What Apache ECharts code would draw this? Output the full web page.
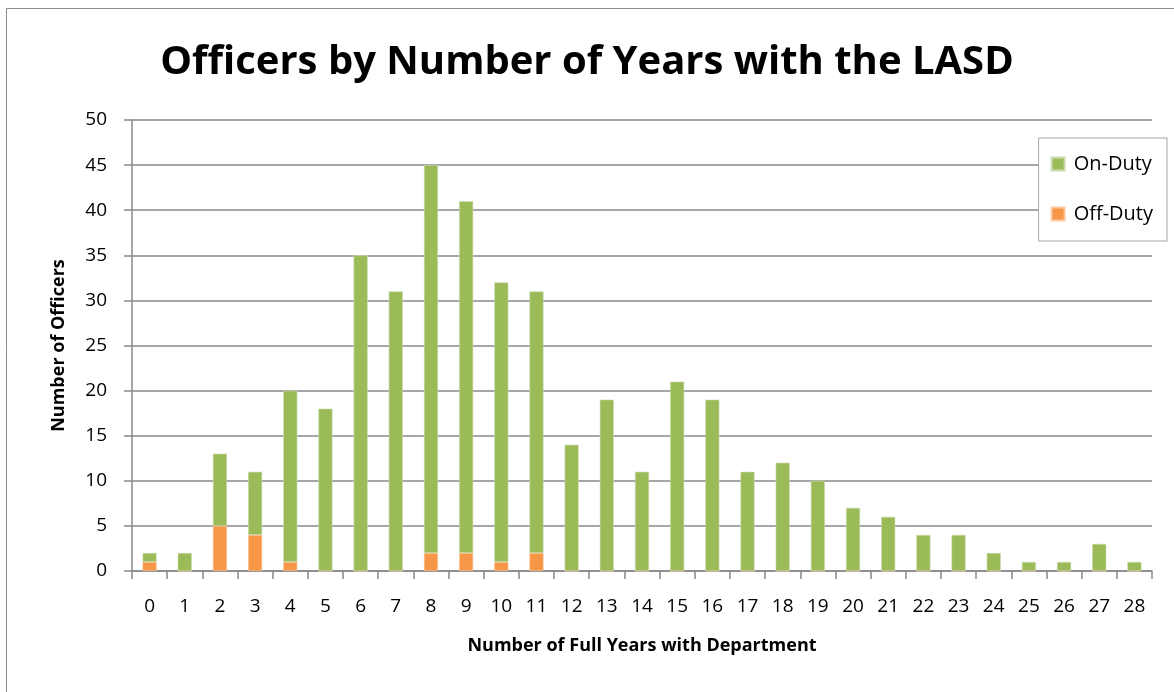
<!DOCTYPE html>
<html>
<head>
<meta charset="utf-8">
<script src="https://cdn.jsdelivr.net/npm/echarts@6/dist/echarts.min.js"></script>
<style>
  html, body { margin: 0; padding: 0; background: #fff; }
  #chart { width: 1174px; height: 692px; }
</style>
</head>
<body>
<div id="chart"></div>
<script>
// years with the department
const years = ['0', '1', '2', '3', '4', '5', '6', '7', '8', '9', '10', '11', '12', '13', '14',
  '15', '16', '17', '18', '19', '20', '21', '22', '23', '24', '25', '26', '27', '28']
// officers off duty (bottom of stack)
const offDuty = [1, 0, 5, 4, 1, 0, 0, 0, 2, 2, 1, 2, 0, 0, 0, 0, 0, 0, 0, 0, 0, 0, 0, 0, 0, 0, 0, 0, 0]
// officers on duty (top of stack)
const onDuty = [1, 2, 8, 7, 19, 18, 35, 31, 43, 39, 31, 29, 14, 19, 11, 21, 19, 11, 12, 10, 7, 6, 4, 4, 2, 1, 1, 3, 1]

const font = "'Open Sans', 'Noto Sans', sans-serif"
const gridColor = '#898989'

const chart = echarts.init(document.getElementById('chart'))

chart.setOption({
  animation: false,
  graphic: [
    {
      type: 'rect',
      shape: { x: 6.5, y: 8.5, width: 1200, height: 720 },
      style: { fill: 'none', stroke: '#8c8c8c', lineWidth: 1 },
      silent: true,
    },
  ],
  title: {
    text: 'Officers by Number of Years with the LASD',
    left: 'center',
    top: 38,
    textStyle: { fontFamily: font, fontWeight: 'bold', fontSize: 40, color: '#000' },
  },
  legend: {
    orient: 'vertical',
    right: 7,
    top: 138,
    data: ['On-Duty', 'Off-Duty'],
    itemWidth: 13,
    itemHeight: 13,
    itemGap: 30,
    padding: [16, 14, 17, 12],
    backgroundColor: '#fff',
    borderColor: '#a6a6a6',
    borderWidth: 1,
    icon: 'rect',
    textStyle: { fontFamily: font, fontSize: 20, color: '#000', padding: [0, 0, 0, 4] },
  },
  grid: { left: 132, right: 22, top: 120, bottom: 121 },
  xAxis: {
    type: 'category',
    data: years,
    name: 'Number of Full Years with Department',
    nameLocation: 'middle',
    nameGap: 66,
    nameTextStyle: { fontFamily: font, fontWeight: 'bold', fontSize: 18, color: '#000' },
    axisLine: { lineStyle: { color: gridColor, width: 1.5 } },
    axisTick: { show: true, alignWithLabel: false, length: 8, lineStyle: { color: gridColor, width: 1.5 } },
    axisLabel: { fontFamily: font, fontSize: 19, color: '#000', margin: 26, interval: 0 },
  },
  yAxis: {
    type: 'value',
    min: 0,
    max: 50,
    interval: 5,
    name: 'Number of Officers',
    nameLocation: 'middle',
    nameGap: 64,
    nameTextStyle: { fontFamily: font, fontWeight: 'bold', fontSize: 18, color: '#000' },
    axisLine: { show: true, lineStyle: { color: gridColor, width: 1.5 } },
    axisTick: { show: true, length: 8, lineStyle: { color: gridColor, width: 1.5 } },
    axisLabel: { fontFamily: font, fontSize: 19, color: '#000', margin: 25 },
    splitLine: { lineStyle: { color: gridColor, width: 1.5 } },
  },
  series: [
    {
      name: 'Off-Duty',
      type: 'bar',
      stack: 'total',
      data: offDuty,
      barWidth: '40%',
      itemStyle: { color: '#F79646', borderColor: '#fbc9a0', borderWidth: 0.6 },
    },
    {
      name: 'On-Duty',
      type: 'bar',
      stack: 'total',
      data: onDuty,
      barWidth: '40%',
      itemStyle: { color: '#9BBB59', borderColor: '#cddcb0', borderWidth: 0.6 },
    },
  ],
})
</script>
</body>
</html>
